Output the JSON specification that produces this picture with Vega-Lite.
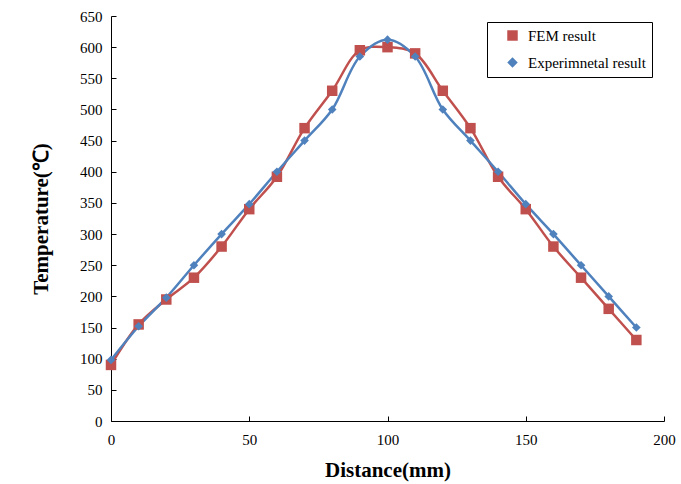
{
  "$schema": "https://vega.github.io/schema/vega-lite/v6.json",
  "autosize": "none",
  "width": 553,
  "height": 405,
  "padding": {"left": 111, "top": 16, "right": 17, "bottom": 63},
  "background": "white",
  "config": {
    "view": {"stroke": null},
    "font": "Liberation Serif",
    "axis": {"grid": false, "domainColor": "black", "tickColor": "black", "labelColor": "black", "titleColor": "black", "labelFont": "Liberation Serif", "titleFont": "Liberation Serif", "labelFontSize": 15, "titleFontSize": 21, "titleFontWeight": "bold", "domainWidth": 1, "tickWidth": 1, "labelFlush": false}
  },
  "data": {"values": [
    {"d": 0, "t": 90, "s": "FEM result"},
    {"d": 10, "t": 155, "s": "FEM result"},
    {"d": 20, "t": 195, "s": "FEM result"},
    {"d": 30, "t": 230, "s": "FEM result"},
    {"d": 40, "t": 280, "s": "FEM result"},
    {"d": 50, "t": 340, "s": "FEM result"},
    {"d": 60, "t": 392, "s": "FEM result"},
    {"d": 70, "t": 470, "s": "FEM result"},
    {"d": 80, "t": 530, "s": "FEM result"},
    {"d": 90, "t": 595, "s": "FEM result"},
    {"d": 100, "t": 600, "s": "FEM result"},
    {"d": 110, "t": 590, "s": "FEM result"},
    {"d": 120, "t": 530, "s": "FEM result"},
    {"d": 130, "t": 470, "s": "FEM result"},
    {"d": 140, "t": 392, "s": "FEM result"},
    {"d": 150, "t": 340, "s": "FEM result"},
    {"d": 160, "t": 280, "s": "FEM result"},
    {"d": 170, "t": 230, "s": "FEM result"},
    {"d": 180, "t": 180, "s": "FEM result"},
    {"d": 190, "t": 130, "s": "FEM result"},
    {"d": 0, "t": 98, "s": "Experimnetal result"},
    {"d": 10, "t": 152, "s": "Experimnetal result"},
    {"d": 20, "t": 198, "s": "Experimnetal result"},
    {"d": 30, "t": 250, "s": "Experimnetal result"},
    {"d": 40, "t": 300, "s": "Experimnetal result"},
    {"d": 50, "t": 348, "s": "Experimnetal result"},
    {"d": 60, "t": 400, "s": "Experimnetal result"},
    {"d": 70, "t": 450, "s": "Experimnetal result"},
    {"d": 80, "t": 500, "s": "Experimnetal result"},
    {"d": 90, "t": 585, "s": "Experimnetal result"},
    {"d": 100, "t": 612, "s": "Experimnetal result"},
    {"d": 110, "t": 585, "s": "Experimnetal result"},
    {"d": 120, "t": 500, "s": "Experimnetal result"},
    {"d": 130, "t": 450, "s": "Experimnetal result"},
    {"d": 140, "t": 400, "s": "Experimnetal result"},
    {"d": 150, "t": 348, "s": "Experimnetal result"},
    {"d": 160, "t": 300, "s": "Experimnetal result"},
    {"d": 170, "t": 250, "s": "Experimnetal result"},
    {"d": 180, "t": 200, "s": "Experimnetal result"},
    {"d": 190, "t": 150, "s": "Experimnetal result"}
  ]},
  "encoding": {
    "x": {"field": "d", "type": "quantitative", "scale": {"domain": [0, 200], "nice": false}, "axis": {"values": [0, 50, 100, 150, 200], "title": "Distance(mm)", "tickSize": -5, "labelPadding": 16, "titlePadding": 12}},
    "y": {"field": "t", "type": "quantitative", "scale": {"domain": [0, 650], "nice": false}, "axis": {"values": [0, 50, 100, 150, 200, 250, 300, 350, 400, 450, 500, 550, 600, 650], "title": "Temperature(℃)", "tickSize": -5, "labelPadding": 14, "titlePadding": 28}},
    "color": {"field": "s", "type": "nominal", "scale": {"domain": ["FEM result", "Experimnetal result"], "range": ["#C0504D", "#4F81BD"]},
      "legend": {"title": null, "orient": "none", "legendX": 376, "legendY": 6, "strokeColor": "black", "fillColor": "white", "padding": 6, "labelFont": "Liberation Serif", "labelFontSize": 15, "labelColor": "black", "rowPadding": 11, "symbolSize": 110, "symbolOffset": 12, "labelOffset": 8, "symbolStrokeWidth": 0, "symbolOpacity": 1}
    }
  },
  "layer": [
    {"mark": {"type": "line", "interpolate": "catmull-rom", "strokeWidth": 2.5}},
    {"mark": {"type": "point", "filled": true, "opacity": 1},
      "encoding": {
        "shape": {"field": "s", "type": "nominal", "scale": {"domain": ["FEM result", "Experimnetal result"], "range": ["square", "diamond"]}, "legend": null},
        "size": {"condition": {"test": "datum.s === 'FEM result'", "value": 110}, "value": 75}
      }}
  ]
}
